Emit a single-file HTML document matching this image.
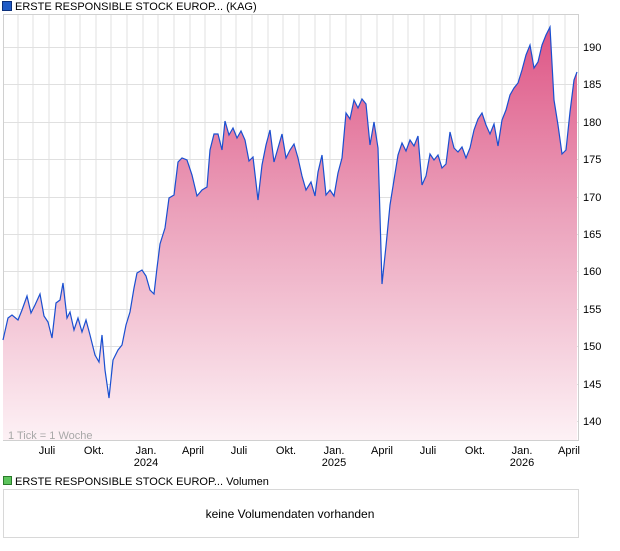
<!DOCTYPE html>
<html><head><meta charset="utf-8"><style>
body{margin:0;background:#fff;font-family:"Liberation Sans",sans-serif;}
</style></head><body>
<svg width="620" height="546" xmlns="http://www.w3.org/2000/svg" font-family="Liberation Sans, sans-serif">
<defs><linearGradient id="g" x1="0" y1="0" x2="0" y2="1">
<stop offset="0" stop-color="#de5585"/><stop offset="0.45" stop-color="#eba1bb"/><stop offset="1" stop-color="#fdf1f5"/></linearGradient></defs>
<rect x="2.5" y="1.5" width="9" height="9" fill="#1f5bc6" stroke="#0b2f7a"/>
<text x="15" y="10" font-size="11" fill="#000">ERSTE RESPONSIBLE STOCK EUROP... (KAG)</text>
<rect x="3.5" y="14.5" width="575" height="426" fill="#fff" stroke="#d0d0d0"/>
<g stroke="#e0e0e0" stroke-width="1">
<path d="M18,15V440M33,15V440M49,15V440M65,15V440M80,15V440M96,15V440M111,15V440M127,15V440M143,15V440M158,15V440M174,15V440M190,15V440M205,15V440M221,15V440M236,15V440M252,15V440M268,15V440M283,15V440M299,15V440M315,15V440M330,15V440M346,15V440M361,15V440M377,15V440M393,15V440M408,15V440M424,15V440M440,15V440M455,15V440M471,15V440M486,15V440M502,15V440M518,15V440M533,15V440M549,15V440M565,15V440"/>
<path d="M4,47.5H578M4,84.5H578M4,122.5H578M4,159.5H578M4,197.5H578M4,234.5H578M4,271.5H578M4,309.5H578M4,346.5H578M4,384.5H578M4,421.5H578"/>
</g>
<path id="d" fill="url(#g)" d="M3,340 L8,318 12,315 18,320 22,310 27,296 31,313 35,305 40,294 44,316 48,322 52,338 56,303 60,300 63,283 67,318 70,312 74,330 78,318 82,332 86,320 90,335 95,355 99,362 102,335 105,370 109,398 113,360 118,350 122,345 126,325 130,312 134,288 137,273 142,270 146,276 150,290 154,294 157,268 160,244 165,228 169,198 174,195 178,162 182,158 187,160 192,175 197,196 202,190 207,187 210,150 214,134 218,134 222,150 225,121 229,135 233,128 237,138 241,131 245,140 249,161 253,157 258,200 262,165 266,145 270,130 274,162 278,148 282,134 286,158 290,150 294,144 298,158 302,176 306,190 311,182 315,196 318,172 322,155 326,195 330,190 334,196 338,173 342,158 346,113 350,119 354,100 358,108 362,99 366,104 370,145 374,122 378,148 382,284 386,246 390,205 394,180 398,155 402,143 406,151 410,140 414,146 418,136 422,185 426,176 430,154 434,160 438,155 442,168 446,164 450,132 454,148 458,152 462,147 466,158 470,148 474,130 478,119 482,113 486,125 490,134 494,124 498,146 502,120 506,110 510,95 514,88 518,83 522,70 526,55 530,45 534,68 538,62 542,45 546,35 550,27 554,100 558,125 562,154 566,150 570,112 574,80 577,72 L577,440 L3,440Z"/>
<path fill="none" stroke="#1a4fd0" stroke-width="1.2" d="M3,340 L8,318 12,315 18,320 22,310 27,296 31,313 35,305 40,294 44,316 48,322 52,338 56,303 60,300 63,283 67,318 70,312 74,330 78,318 82,332 86,320 90,335 95,355 99,362 102,335 105,370 109,398 113,360 118,350 122,345 126,325 130,312 134,288 137,273 142,270 146,276 150,290 154,294 157,268 160,244 165,228 169,198 174,195 178,162 182,158 187,160 192,175 197,196 202,190 207,187 210,150 214,134 218,134 222,150 225,121 229,135 233,128 237,138 241,131 245,140 249,161 253,157 258,200 262,165 266,145 270,130 274,162 278,148 282,134 286,158 290,150 294,144 298,158 302,176 306,190 311,182 315,196 318,172 322,155 326,195 330,190 334,196 338,173 342,158 346,113 350,119 354,100 358,108 362,99 366,104 370,145 374,122 378,148 382,284 386,246 390,205 394,180 398,155 402,143 406,151 410,140 414,146 418,136 422,185 426,176 430,154 434,160 438,155 442,168 446,164 450,132 454,148 458,152 462,147 466,158 470,148 474,130 478,119 482,113 486,125 490,134 494,124 498,146 502,120 506,110 510,95 514,88 518,83 522,70 526,55 530,45 534,68 538,62 542,45 546,35 550,27 554,100 558,125 562,154 566,150 570,112 574,80 577,72"/>
<text x="8" y="439" font-size="11" fill="#a8a8a8">1 Tick = 1 Woche</text>
<g font-size="11" fill="#000">
<text x="583" y="51">190</text><text x="583" y="88">185</text><text x="583" y="126">180</text><text x="583" y="163">175</text><text x="583" y="201">170</text><text x="583" y="238">165</text><text x="583" y="275">160</text><text x="583" y="313">155</text><text x="583" y="350">150</text><text x="583" y="388">145</text><text x="583" y="425">140</text>
</g>
<g font-size="11" fill="#000" text-anchor="middle">
<text x="47" y="454">Juli</text><text x="94" y="454">Okt.</text><text x="146" y="454">Jan.</text><text x="146" y="466">2024</text><text x="193" y="454">April</text>
<text x="239" y="454">Juli</text><text x="286" y="454">Okt.</text><text x="334" y="454">Jan.</text><text x="334" y="466">2025</text><text x="382" y="454">April</text>
<text x="428" y="454">Juli</text><text x="475" y="454">Okt.</text><text x="522" y="454">Jan.</text><text x="522" y="466">2026</text><text x="569" y="454">April</text>
</g>
<rect x="3.5" y="476.5" width="8" height="8" fill="#5cc45c" stroke="#2a7a2a"/>
<text x="15" y="485" font-size="11" fill="#000">ERSTE RESPONSIBLE STOCK EUROP... Volumen</text>
<rect x="3.5" y="489.5" width="575" height="48" fill="#fff" stroke="#d8d8d8"/>
<text x="290" y="518" font-size="12" fill="#000" text-anchor="middle">keine Volumendaten vorhanden</text>
</svg>
</body></html>
